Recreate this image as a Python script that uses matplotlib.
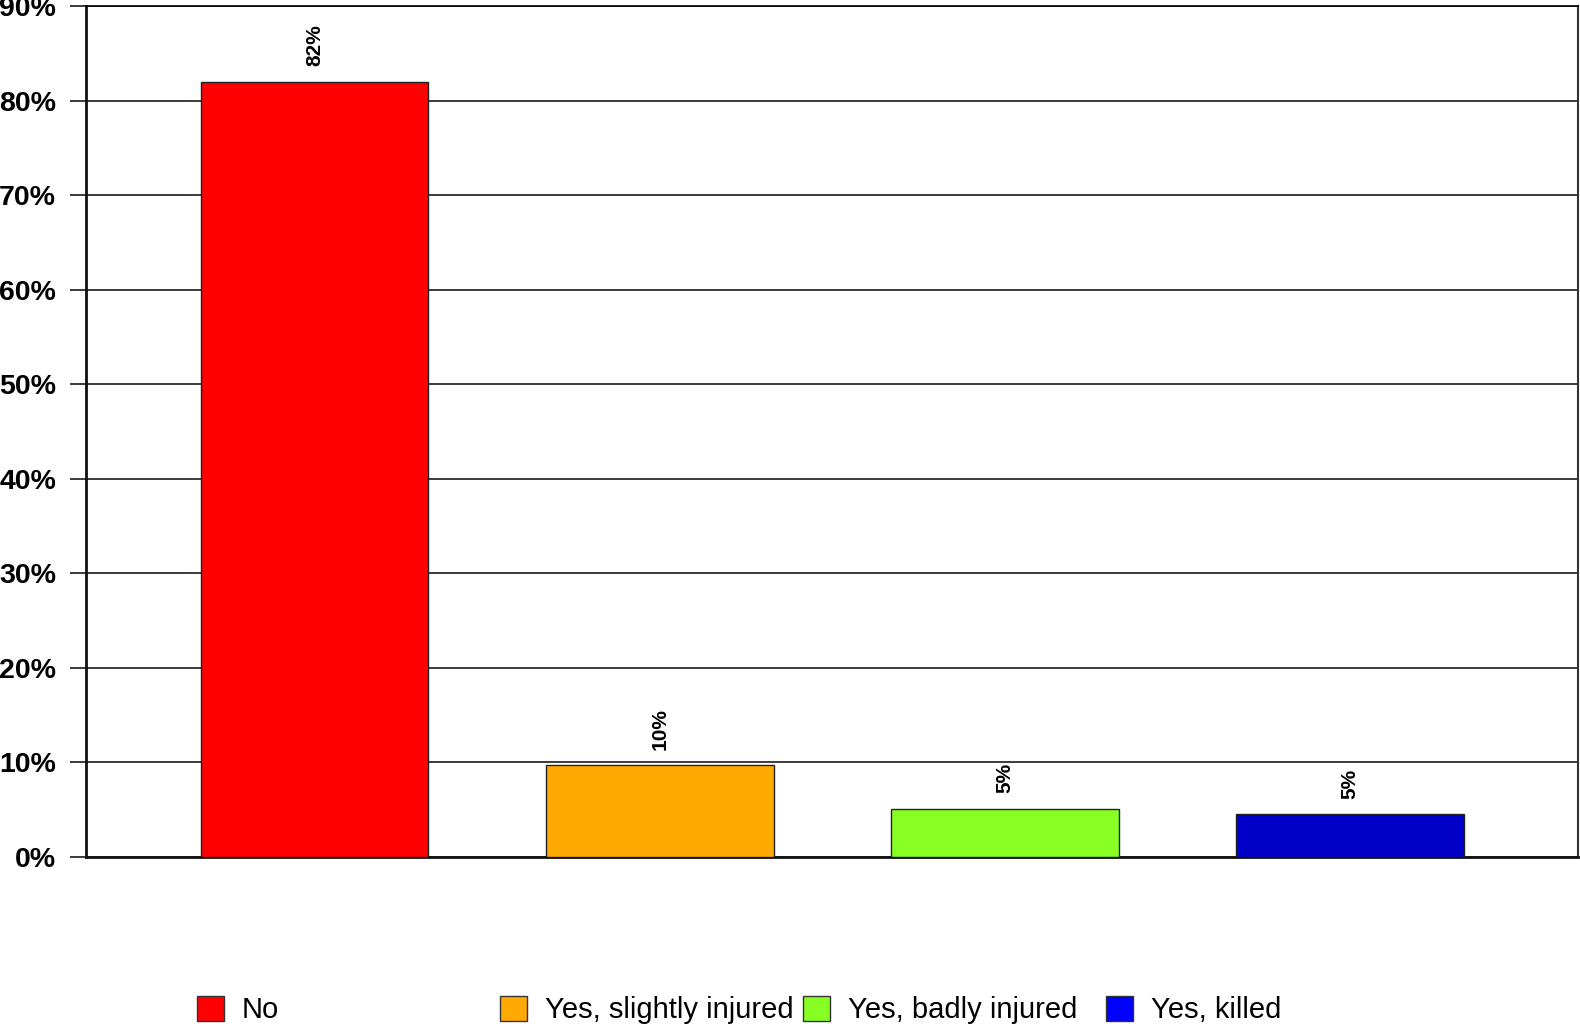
import numpy as np
import matplotlib
matplotlib.use("Agg")
import matplotlib.pyplot as plt
from matplotlib.patches import Patch
from matplotlib.ticker import PercentFormatter

plt.rcParams['font.family'] = ['Liberation Sans', 'DejaVu Sans']

# data
categories = ['No', 'Yes, slightly injured', 'Yes, badly injured', 'Yes, killed']
values = [82.0, 9.7, 5.1, 4.5]
value_labels = ['82%', '10%', '5%', '5%']
bar_colors = ['#FF0000', '#FFAA00', '#88FF22', '#0000C8']
legend_colors = ['#FF0000', '#FFAA00', '#88FF22', '#0000FF']
yticks = np.arange(0, 91, 10)

W, H = 1580, 1027
fig = plt.figure(figsize=(W / 100, H / 100), dpi=100)
ax = fig.add_axes([86 / W, 1 - 857 / H, (1578 - 86) / W, (857 - 6) / H])

x = np.arange(len(categories))
bars = ax.bar(x, values, width=0.66, color=bar_colors,
              edgecolor='#222222', linewidth=1.0, zorder=3)

for b, lab in zip(bars, value_labels):
    ax.annotate(lab, (b.get_x() + b.get_width() / 2, b.get_height()),
                xytext=(0, 11), textcoords='offset points',
                rotation=90, ha='center', va='bottom',
                fontsize=15, fontweight='bold')

ax.set_xlim(-0.662, 3.66)
ax.set_ylim(0, 90)
ax.set_yticks(yticks)
ax.yaxis.set_major_formatter(PercentFormatter(decimals=0))
ax.set_xticks([])
ax.grid(axis='y', color='#1a1a1a', linewidth=1.2, zorder=0)
ax.tick_params(axis='y', length=11.5, width=1.2, color='#1a1a1a', pad=10,
               labelsize=20.5)
for t in ax.get_yticklabels():
    t.set_fontweight('bold')

for side in ['left', 'bottom']:
    ax.spines[side].set_linewidth(2.0)
    ax.spines[side].set_color('#111111')
ax.spines['top'].set_linewidth(1.2)
ax.spines['right'].set_linewidth(1.5)
ax.spines['right'].set_color('#333333')

# legend, one entry per slot
legend_x = [197, 500, 803, 1106]
for cat, col, lx in zip(categories, legend_colors, legend_x):
    h = Patch(facecolor=col, edgecolor='#333333', linewidth=1.0)
    fig.legend([h], [cat], loc='center left',
               bbox_to_anchor=(lx / W, 1 - 1010 / H),
               frameon=False, fontsize=21, handlelength=0.93,
               handleheight=0.93, handletextpad=0.6,
               borderpad=0, borderaxespad=0)

fig.savefig('out.png', dpi=100, facecolor='white')
